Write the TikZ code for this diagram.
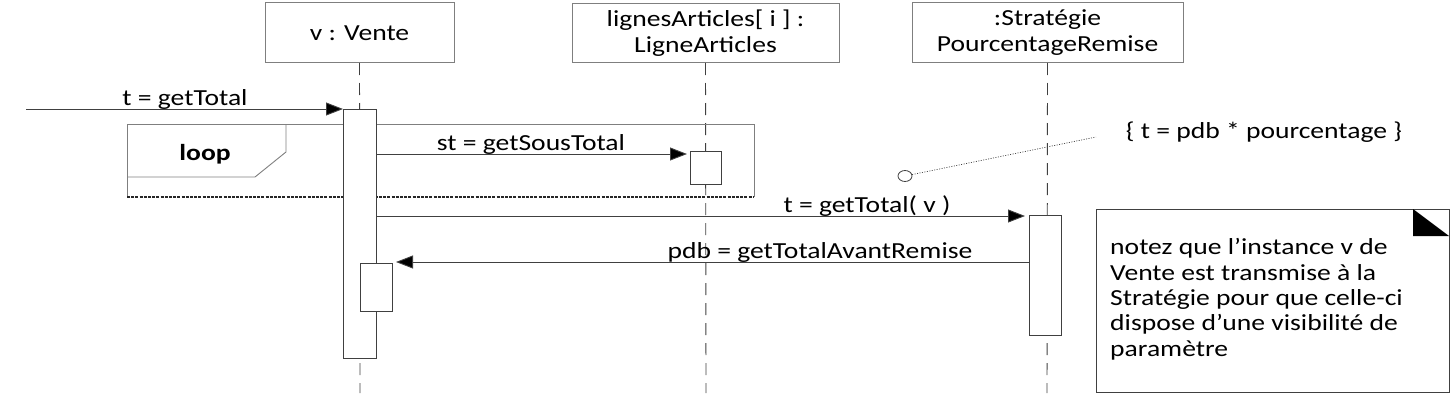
\documentclass[tikz,border=0pt]{standalone}
\usepackage{fontspec}
\setmainfont{Carlito}[FakeStretch=1.2]
\usetikzlibrary{arrows.meta,shapes.geometric}
\definecolor{lc}{HTML}{404040}
\definecolor{bc}{HTML}{7F7F7F}
\tikzset{
  hdr/.style={draw=bc, line width=1pt, fill=white, inner sep=0pt, outer sep=0pt, align=center, anchor=north west, font=\fontsize{23}{26}\selectfont},
  life/.style={draw=lc, line width=0.9pt, dash pattern=on 12pt off 8pt},
  act/.style={draw=lc, line width=0.9pt, fill=white, inner sep=0pt, outer sep=0pt, anchor=north west},
  msg/.style={draw=lc, line width=0.9pt, -{Triangle[length=17pt,width=13pt,fill=black]}},
  lbl/.style={font=\fontsize{23}{26}\selectfont, anchor=base, inner sep=0pt},
  frame/.style={draw=bc, line width=0.9pt},
  framebottom/.style={draw=black!85, line width=1.3pt, dash pattern=on 3pt off 1.2pt},
}
\begin{document}
\begin{tikzpicture}[x=1pt,y=-1pt]
\useasboundingbox (0,0) rectangle (1453,404);

% headers
\node[hdr, minimum width=189pt, minimum height=60pt] (HV) at (265,3) {v : Vente};
\node[hdr, minimum width=267pt, minimum height=59pt] (HL) at (572,4) {lignesArticles[ i ] :\\LigneArticles};
\node[hdr, minimum width=271pt, minimum height=60pt] (HS) at (912,3) {:Stratégie\\PourcentageRemise};

% lifelines
\coordinate (VB) at (360,393);
\coordinate (LB) at (706,393);
\coordinate (SB) at (1047,393);
\draw[life] (HV.south) -- (VB);
\draw[life] (HL.south) -- (LB);
\draw[life] (HS.south) -- (SB);

% loop frame
\node[inner sep=0pt, outer sep=0pt, minimum width=627pt, minimum height=73pt, anchor=north west] (LF) at (127,124) {};
\draw[frame] (LF.south west) -- (LF.north west) -- (LF.north east) -- (LF.south east);
\draw[framebottom] (LF.south west) -- (LF.south east);
\coordinate (T1) at (127,177);
\coordinate (T2) at (255,177);
\coordinate (T3) at (286,152);
\coordinate (T4) at (286,124);
\draw[frame] (T1) -- (T2) -- (T3) -- (T4);
\node[lbl, font=\fontsize{23}{26}\selectfont\bfseries] (LOOP) at (205,160) {loop};

% activations
\node[act, minimum width=33pt, minimum height=249pt] (AV) at (343,109) {};
\node[act, minimum width=32pt, minimum height=48pt] (AV2) at (360,263) {};
\node[act, minimum width=31pt, minimum height=33pt] (AL) at (690,151) {};
\node[act, minimum width=32pt, minimum height=120pt] (AS) at (1029,215) {};

% messages
\coordinate (M1S) at (26,109);
\draw[msg] (M1S) -- (AV.north west);
\node[lbl] (L1) at (185,105) {t = getTotal};

\coordinate (M2S) at (376,154);
\coordinate (M2E) at (690,154);
\draw[msg, shorten >=3pt] (M2S) -- (M2E);
\node[lbl] (L2) at (531,150) {st = getSousTotal};

\coordinate (M3S) at (376,216);
\draw[msg, shorten >=4pt] (M3S) -- (AS.north west |- M3S);
\node[lbl] (L3) at (867,212) {t = getTotal( v )};

\coordinate (M4S) at (1029,262);
\coordinate (M4E) at (392,262);
\draw[msg, shorten >=4pt] (M4S) -- (M4E);
\node[lbl] (L4) at (820,258) {pdb = getTotalAvantRemise};

% constraint
\node[draw=lc, line width=0.8pt, ellipse, minimum width=14pt, minimum height=11pt, inner sep=0pt, fill=white] (C) at (905,176) {};
\coordinate (K) at (1096,137);
\draw[lc, line width=0.7pt, dash pattern=on 1pt off 1.5pt] (C) -- (K);
\node[lbl] (CT) at (1264,138) {\{ t = pdb * pourcentage \}};

% note
\node[draw=lc, line width=0.9pt, inner sep=0pt, outer sep=0pt, minimum width=353pt, minimum height=183pt, anchor=north west] (N) at (1096,209) {};
\fill[black] (1413,209) -- (1413,236) -- (1449,236) -- cycle;
\node[anchor=base west, align=left, inner sep=0pt, font=\fontsize{23}{25.3}\selectfont] (NT) at (1110,356) {notez que l’instance v de\\Vente est transmise à la\\Stratégie pour que celle-ci\\dispose d’une visibilité de\\paramètre};
\end{tikzpicture}
\end{document}
